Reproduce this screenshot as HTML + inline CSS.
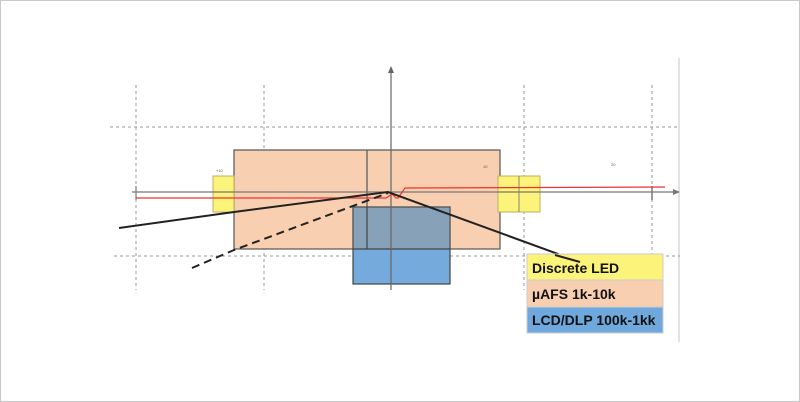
<!DOCTYPE html>
<html><head><style>
html,body{margin:0;padding:0;background:#fff;}
svg{display:block;}
text{font-family:"Liberation Sans",sans-serif;}
</style></head><body>
<svg width="800" height="402" viewBox="0 0 800 402" xmlns="http://www.w3.org/2000/svg">
<rect x="0.5" y="0.5" width="799" height="401" fill="#fff" stroke="#c8c8c8"/>
<line x1="679" y1="58" x2="679" y2="342" stroke="#d8d8d8" stroke-width="1.5"/>
<g stroke="#9a9a9a" stroke-width="1" stroke-dasharray="3,3" fill="none">
<line x1="136" y1="85" x2="136" y2="290"/>
<line x1="264" y1="85" x2="264" y2="290"/>
<line x1="524" y1="85" x2="524" y2="290"/>
<line x1="652" y1="85" x2="652" y2="290"/>
<line x1="110" y1="127" x2="680" y2="127"/>
<line x1="114" y1="256" x2="680" y2="256"/>
</g>
<rect x="234" y="150" width="266" height="99" fill="#f8cfb0" stroke="#555" stroke-width="1.2"/>
<line x1="367" y1="150" x2="367" y2="249" stroke="#555" stroke-width="1.2"/>
<rect x="213" y="176" width="21" height="36" fill="#fbf37a" stroke="#b8b060" stroke-width="1"/>
<rect x="498" y="176" width="42" height="36" fill="#fbf37a" stroke="#b8b060" stroke-width="1"/>
<line x1="519" y1="176" x2="519" y2="212" stroke="#8a8a60" stroke-width="1"/>
<rect x="353" y="207" width="97" height="77" fill="#74aadc" stroke="#444" stroke-width="1.2"/>
<rect x="353.6" y="207.6" width="95.8" height="41" fill="#86a1b8"/>
<line x1="353" y1="249" x2="450" y2="249" stroke="#444" stroke-width="1.2"/>
<line x1="367" y1="207" x2="367" y2="249" stroke="#444" stroke-width="1.2"/>
<line x1="132" y1="192" x2="676" y2="192" stroke="#777" stroke-width="1.2"/>
<polygon points="680,192 673,189 673,195" fill="#777"/>
<line x1="391" y1="70" x2="391" y2="290" stroke="#666" stroke-width="1.2"/>
<polygon points="391,66 388,73 394,73" fill="#666"/>
<line x1="136" y1="186" x2="136" y2="200" stroke="#777" stroke-width="1.2"/>
<line x1="652" y1="186" x2="652" y2="200" stroke="#777" stroke-width="1.5"/>
<polyline points="136,198 386,198 392,194 396,198 398,198 405,188 665,187" fill="none" stroke="#e33" stroke-width="1.2"/>
<polyline points="119,228 234,212 388,192 580,262" fill="none" stroke="#222" stroke-width="2"/>
<polyline points="192,268 234,250 388,193" fill="none" stroke="#222" stroke-width="2" stroke-dasharray="8,5"/>
<text x="216" y="172" font-size="4" fill="#555">+10</text>
<text x="483" y="168" font-size="4" fill="#555">10</text>
<text x="611" y="166" font-size="4" fill="#555">20</text>
<rect x="527" y="254" width="136" height="26" fill="#fbf37a" stroke="#ccc"/>
<rect x="527" y="280" width="136" height="27" fill="#f8cfb0" stroke="#ccc"/>
<rect x="527" y="307" width="136" height="26" fill="#6fa8dc" stroke="#ccc"/>
<line x1="555" y1="255" x2="580" y2="262" stroke="#222" stroke-width="2"/>
<g font-size="14" font-weight="bold" fill="#111">
<text x="532" y="273">Discrete LED</text>
<text x="532" y="299">µAFS 1k-10k</text>
<text x="532" y="325">LCD/DLP 100k-1kk</text>
</g>
</svg>
</body></html>
